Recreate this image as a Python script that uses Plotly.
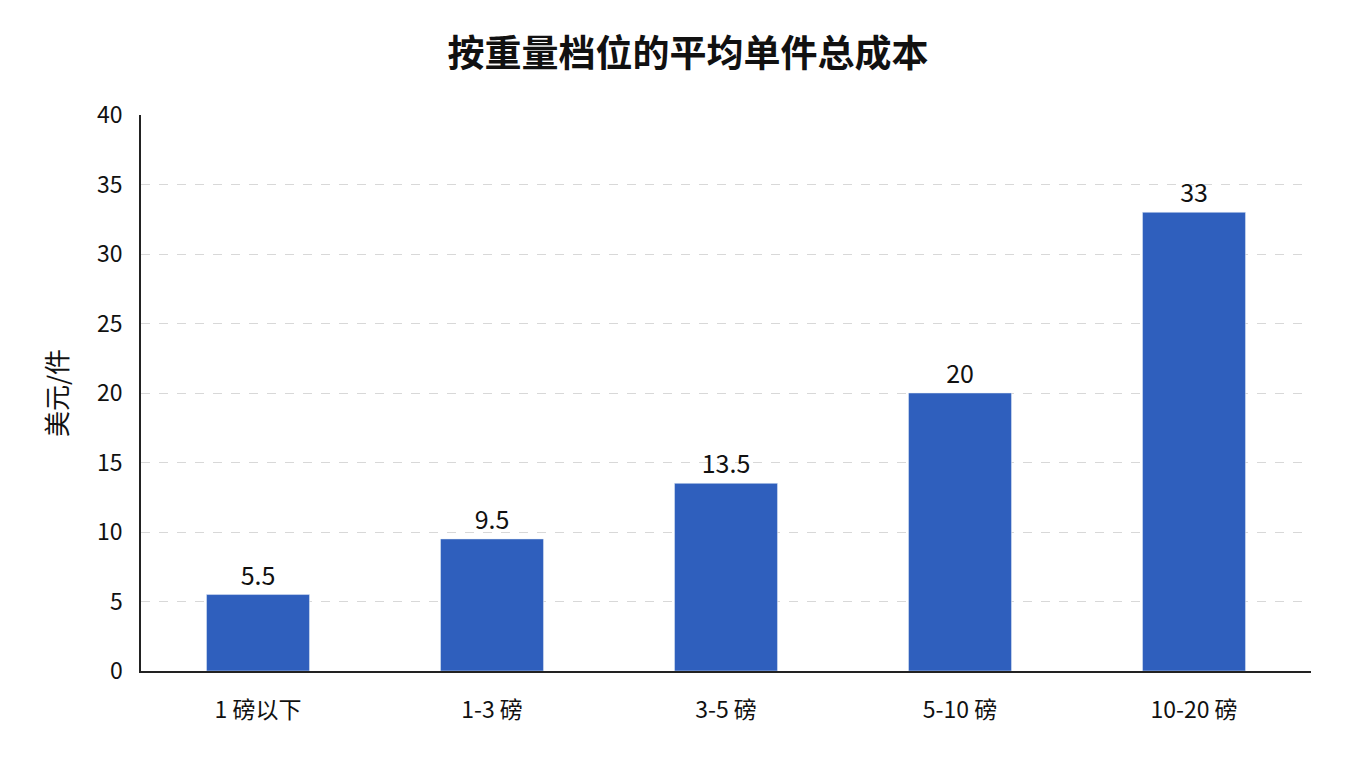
import plotly.graph_objects as go

categories = ["1 磅以下", "1-3 磅", "3-5 磅", "5-10 磅", "10-20 磅"]
values = [5.5, 9.5, 13.5, 20, 33]
labels = ["5.5", "9.5", "13.5", "20", "33"]

font = "Noto Sans CJK SC"
fig = go.Figure(go.Bar(
    x=categories, y=values, text=labels, textposition="outside",
    marker_color="#2f5fbd", width=0.44, cliponaxis=False,
    textfont=dict(size=25, color="#111"),
))
fig.update_layout(
    width=1360, height=768, plot_bgcolor="white", paper_bgcolor="white",
    font=dict(family=font, color="#111"),
    title=dict(text="<b>按重量档位的平均单件总成本</b>", x=0.5, xanchor="center",
               y=0.94, yanchor="middle", font=dict(size=37, color="#111")),
    margin=dict(l=133, r=57, t=107, b=105),
    showlegend=False,
)
fig.update_yaxes(range=[0, 40], dtick=5, showline=True, linecolor="#222", linewidth=1.5,
                 gridcolor="#d8d8d8", griddash="dash", tickfont=dict(size=23),
                 ticks="outside", ticklen=12, tickcolor="rgba(0,0,0,0)",
                 title=dict(text="美元/件", font=dict(size=26), standoff=22), zeroline=False)
fig.update_xaxes(showline=True, linecolor="#222", linewidth=1.5, tickfont=dict(size=23),
                 ticks="outside", ticklen=18, tickcolor="rgba(0,0,0,0)")
fig.write_html("out.html")
